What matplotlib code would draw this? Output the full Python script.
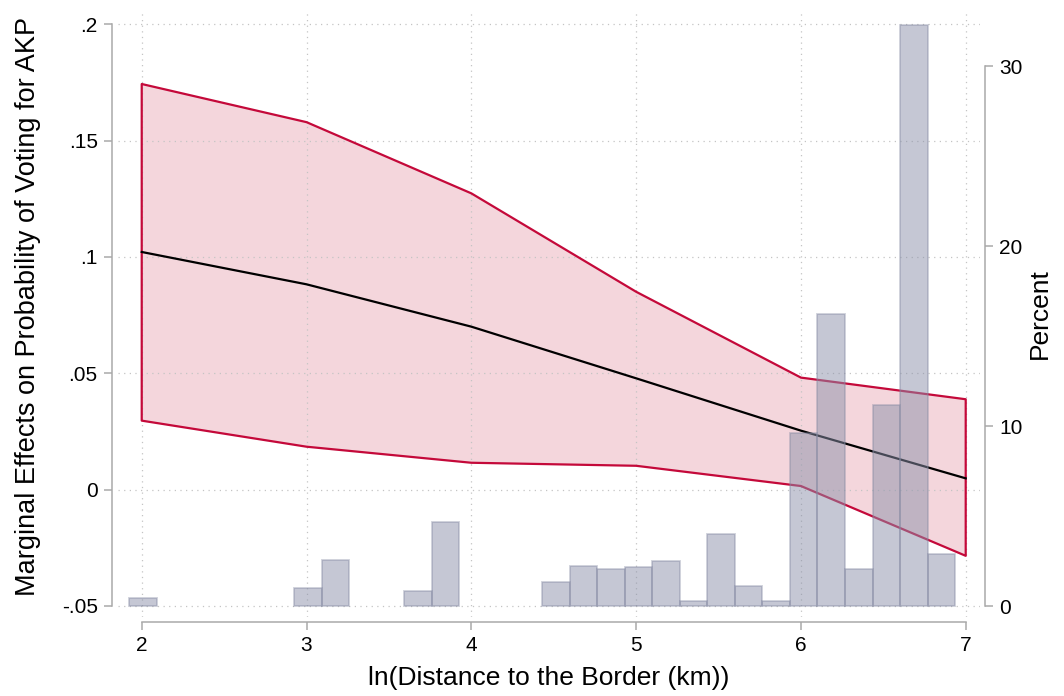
import matplotlib
matplotlib.use('Agg')
import matplotlib.pyplot as plt
import numpy as np

plt.rcParams['font.family'] = ['Liberation Sans', 'DejaVu Sans']

# marginal effects and 95% CI at each ln(distance) value
dist = [2, 3, 4, 5, 6, 7]
effect = [0.1021, 0.0882, 0.0700, 0.0478, 0.0253, 0.0048]
ci_low = [0.0296, 0.0184, 0.0115, 0.0102, 0.0015, -0.0285]
ci_high = [0.1743, 0.1579, 0.1273, 0.0850, 0.0481, 0.0388]

# histogram of ln(distance), percent per bin (30 bins)
hist_start = 1.923
hist_width = 0.1671
hist_pct = [0.43, 0, 0, 0, 0, 0, 0.98, 2.54, 0, 0,
            0.82, 4.65, 0, 0, 0, 1.33, 2.22, 2.06, 2.17, 2.48,
            0.26, 4.00, 1.09, 0.26, 9.61, 16.2, 2.06, 11.17, 32.3, 2.89]

yticks = [-0.05, 0, 0.05, 0.1, 0.15, 0.2]
ytick_labels = ['-.05', '0', '.05', '.1', '.15', '.2']
pct_ticks = [0, 10, 20, 30]

RED = '#c4093a'
PINK = '#f4d6dc'
AXCOL = '#a9a9a9'


def style_ticks(ax, axis):
    ax.tick_params(axis=axis, length=5.8, width=1.1, color=AXCOL,
                   labelsize=15, pad=4.5)


def main():
    fig = plt.figure(figsize=(10.64, 6.96), dpi=100)
    ax = fig.add_axes([0.1109, 0.1135, 0.8102, 0.8721])

    # band fill below the grid, outline above it
    ax.fill_between(dist, ci_low, ci_high, facecolor=PINK, linewidth=0,
                    zorder=0.5)
    ax.fill_between(dist, ci_low, ci_high, facecolor='none', edgecolor=RED,
                    linewidth=1.6, zorder=1.8)
    ax.plot(dist, effect, color='black', linewidth=1.6, zorder=2)

    ax.set_xlim(1.856, 7.087)
    ax.set_ylim(-0.0548, 0.2061)
    ax.set_xticks(dist)
    ax.set_yticks(yticks)
    ax.set_yticklabels(ytick_labels)
    ax.grid(True, color='#c4c4c4', linestyle=(0, (1, 3.5)), linewidth=0.9)

    for side in ['top', 'right']:
        ax.spines[side].set_visible(False)
    ax.spines['left'].set_position(('outward', 4.3))
    ax.spines['bottom'].set_position(('outward', 3.6))
    ax.spines['left'].set_bounds(-0.05, 0.2)
    ax.spines['bottom'].set_bounds(2, 7)
    for side in ['left', 'bottom']:
        ax.spines[side].set_color(AXCOL)
        ax.spines[side].set_linewidth(1.1)
    style_ticks(ax, 'x')
    style_ticks(ax, 'y')

    ax.set_xlabel('ln(Distance to the Border (km))', fontsize=19, labelpad=8)
    ax.set_ylabel('Marginal Effects on Probability of Voting for AKP',
                  fontsize=19.5, va='center')
    ax.yaxis.set_label_coords(-0.1044, 0.511)

    # histogram on the secondary axis
    ax2 = ax.twinx()
    pct = np.array(hist_pct)
    lefts = hist_start + hist_width * np.arange(len(pct))
    keep = pct > 0
    ax2.bar(lefts[keep], pct[keep], width=hist_width, align='edge',
            color=(140 / 255, 145 / 255, 170 / 255, 0.5),
            edgecolor=(130 / 255, 135 / 255, 160 / 255, 0.4), linewidth=1.3)
    ax2.set_ylim(-0.611, 33.11)
    ax2.set_yticks(pct_ticks)
    for side in ['top', 'left', 'bottom']:
        ax2.spines[side].set_visible(False)
    ax2.spines['right'].set_position(('outward', 3.6))
    ax2.spines['right'].set_bounds(0, 30)
    ax2.spines['right'].set_color(AXCOL)
    ax2.spines['right'].set_linewidth(1.1)
    style_ticks(ax2, 'y')
    ax2.set_ylabel('Percent', fontsize=19, labelpad=4)

    fig.savefig('out.png', dpi=100)


if __name__ == '__main__':
    main()
